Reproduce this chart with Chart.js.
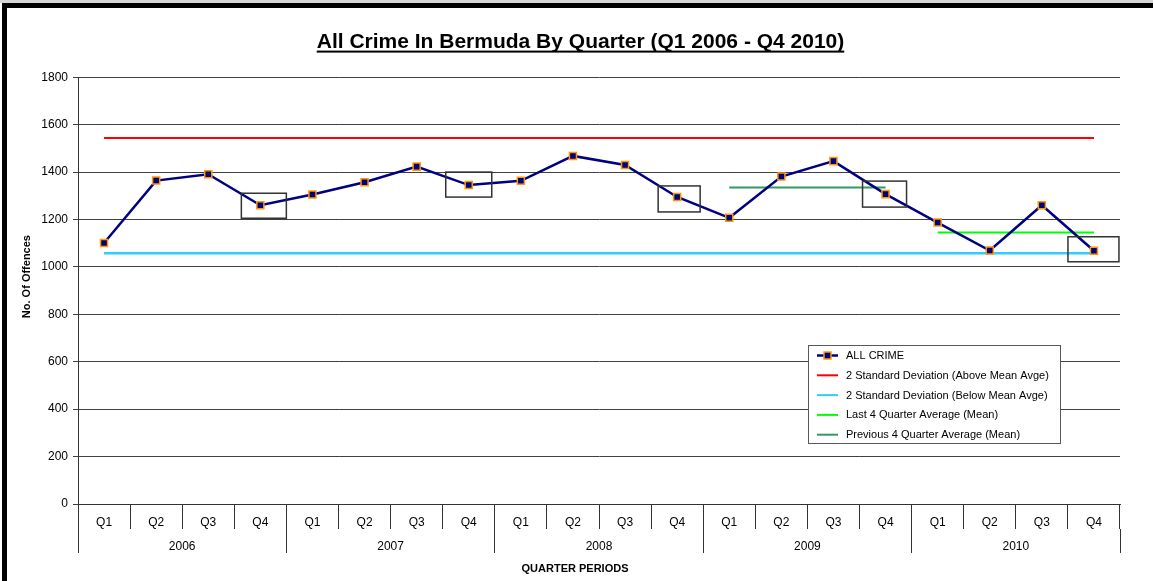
<!DOCTYPE html>
<html>
<head>
<meta charset="utf-8">
<title>All Crime In Bermuda By Quarter</title>
<script src="https://cdn.jsdelivr.net/npm/chart.js@4.4.1/dist/chart.umd.min.js"></script>
<style>
  html, body { margin: 0; padding: 0; background: #fff; }
  #wrap { position: relative; width: 1153px; height: 581px; overflow: hidden; }
  #strip { position: absolute; left: 0; top: 0; width: 1153px; height: 3px; background: #d6d6d6; }
  #frame { position: absolute; left: 2px; top: 3px; right: -10px; bottom: -10px;
           border-left: 5px solid #000; border-top: 5px solid #000; }
  canvas { position: absolute; left: 0; top: 0; }
</style>
</head>
<body>
<div id="wrap">
  <div id="strip"></div>
  <div id="frame"></div>
  <canvas id="grafico" width="1153" height="581"></canvas>
</div>
<script>
// Dados
const quarters = ['Q1', 'Q2', 'Q3', 'Q4', 'Q1', 'Q2', 'Q3', 'Q4', 'Q1', 'Q2',
                  'Q3', 'Q4', 'Q1', 'Q2', 'Q3', 'Q4', 'Q1', 'Q2', 'Q3', 'Q4'];
const years = ['2006', '2007', '2008', '2009', '2010'];
const allCrime = [1101, 1364, 1391, 1260, 1305, 1357, 1423, 1345, 1363, 1468,
                  1430, 1295, 1207, 1381, 1446, 1307, 1187, 1069, 1260, 1068];
const upperLimit = 1544;   // 2 desvios acima da media
const lowerLimit = 1057;   // 2 desvios abaixo da media
const prevAvg = 1335;      // media dos 4 trimestres anteriores (2009)
const lastAvg = 1145;      // media dos ultimos 4 trimestres (2010)
const prevAvgYear = '2009';
const lastAvgYear = '2010';
const yMax = 1800;
const yStep = 200;

// Caixas desenhadas a mao em volta dos Q4 (offsets em px a partir do ponto)
const q4Boxes = [
    { index: 3,  l: 19, r: 26, t: 12, b: 13 },
    { index: 7,  l: 23, r: 23, t: 13, b: 12 },
    { index: 11, l: 19, r: 23, t: 11, b: 15 },
    { index: 15, l: 23, r: 21, t: 13, b: 13 },
    { index: 19, l: 26, r: 25, t: 14, b: 11 }
];

const FONT = '"Liberation Sans", Arial, sans-serif';
Chart.defaults.font.family = FONT;
Chart.defaults.color = '#000';

const yearOf = i => years[Math.floor(i / 4)];

const plugins = {
    id: 'extras',
    afterDraw(chart) {
        const { ctx, chartArea: a } = chart;
        const meta = chart.getDatasetMeta(0);
        ctx.save();

        // sublinhado do titulo
        const tb = chart.titleBlock;
        const txt = chart.options.plugins.title.text;
        ctx.font = 'bold 21px ' + FONT;
        const w = ctx.measureText(txt).width;
        const cx = (tb.left + tb.right) / 2;
        const ty = tb.top + chart.options.plugins.title.padding.top + 12.6;
        ctx.fillStyle = '#000';
        ctx.fillRect(cx - w / 2, ty + 8, w, 2);

        // titulos dos eixos
        ctx.font = 'bold 11px ' + FONT;
        ctx.textAlign = 'center';
        ctx.textBaseline = 'middle';
        ctx.fillText('QUARTER PERIODS', (a.left + a.right) / 2 - 24, 569);
        ctx.save();
        ctx.translate(27, (a.top + a.bottom) / 2 - 14);
        ctx.rotate(-Math.PI / 2);
        ctx.fillText('No. Of Offences', 0, 0);
        ctx.restore();

        // caixas em volta dos Q4
        ctx.strokeStyle = '#333';
        ctx.lineWidth = 1.5;
        q4Boxes.forEach(b => {
            const p = meta.data[b.index];
            ctx.strokeRect(p.x - b.l, p.y - b.t, b.l + b.r, b.t + b.b);
        });

        // legenda dentro da area do grafico
        const L = { left: 808.5, top: 345.5, width: 252, height: 98 };
        ctx.fillStyle = '#fff';
        ctx.fillRect(L.left, L.top, L.width, L.height);
        ctx.strokeStyle = '#595959';
        ctx.lineWidth = 1;
        ctx.strokeRect(L.left, L.top, L.width, L.height);
        ctx.font = '11px ' + FONT;
        ctx.textAlign = 'left';
        chart.data.datasets.forEach((ds, i) => {
            const yy = L.top + 10 + i * 19.8;
            ctx.strokeStyle = ds.borderColor;
            ctx.lineWidth = i === 0 ? 2.5 : 2;
            ctx.beginPath();
            ctx.moveTo(817, yy);
            ctx.lineTo(838, yy);
            ctx.stroke();
            if (i === 0) {
                ctx.fillStyle = ds.pointBackgroundColor;
                ctx.strokeStyle = ds.pointBorderColor;
                ctx.lineWidth = 1.5;
                ctx.fillRect(824, yy - 3.5, 7, 7);
                ctx.strokeRect(824, yy - 3.5, 7, 7);
            }
            ctx.fillStyle = '#000';
            ctx.fillText(ds.label, 846, yy + 0.5);
        });
        ctx.restore();
    }
};

const grafico = new Chart(document.getElementById('grafico'), {
    type: 'line',
    data: {
        labels: quarters,
        datasets: [{
            label: 'ALL CRIME',
            data: allCrime,
            borderColor: '#000080',
            borderWidth: 2.5,
            pointStyle: 'rect',
            pointRadius: 5,
            pointBackgroundColor: '#000080',
            pointBorderColor: '#FF9900',
            pointBorderWidth: 1.5,
            tension: 0
        }, {
            label: '2 Standard Deviation (Above Mean Avge)',
            data: quarters.map(() => upperLimit),
            borderColor: '#FF0000',
            borderWidth: 2,
            pointRadius: 0
        }, {
            label: '2 Standard Deviation (Below Mean Avge)',
            data: quarters.map(() => lowerLimit),
            borderColor: '#33CCFF',
            borderWidth: 2.5,
            pointRadius: 0
        }, {
            label: 'Last 4 Quarter Average (Mean)',
            data: quarters.map((q, i) => yearOf(i) === lastAvgYear ? lastAvg : null),
            borderColor: '#00FF00',
            borderWidth: 2,
            pointRadius: 0
        }, {
            label: 'Previous 4 Quarter Average (Mean)',
            data: quarters.map((q, i) => yearOf(i) === prevAvgYear ? prevAvg : null),
            borderColor: '#339966',
            borderWidth: 2,
            pointRadius: 0
        }]
    },
    options: {
        responsive: false,
        animation: false,
        layout: { padding: { left: 41, right: 33, top: 0, bottom: 0 } },
        plugins: {
            legend: { display: false },
            tooltip: { enabled: false },
            title: {
                display: true,
                text: 'All Crime In Bermuda By Quarter (Q1 2006 - Q4 2010)',
                font: { size: 21, weight: 'bold' },
                color: '#000',
                padding: { top: 30, bottom: 22 }
            }
        },
        scales: {
            x: {
                type: 'category',
                offset: true,
                weight: 0,
                grid: { offset: true, drawOnChartArea: false, tickLength: 25, color: '#333' },
                border: { color: '#333' },
                ticks: { font: { size: 12 }, padding: -14, maxRotation: 0, autoSkip: false },
                afterFit: s => { s.height = 25; }
            },
            x2: {
                type: 'category',
                labels: years,
                position: 'bottom',
                offset: true,
                weight: 1,
                grid: { offset: true, drawOnChartArea: false, tickLength: 24, color: '#333' },
                border: { display: false },
                ticks: { font: { size: 12 }, padding: -14, maxRotation: 0, autoSkip: false },
                afterFit: s => { s.height = 52; }
            },
            y: {
                min: 0,
                max: yMax,
                ticks: { stepSize: yStep, font: { size: 12 }, padding: 5, callback: v => String(v) },
                grid: { color: '#404040', tickLength: 5 },
                border: { color: '#333' },
                afterFit: s => { s.width = 37; }
            }
        }
    },
    plugins: [plugins]
});
</script>
</body>
</html>
